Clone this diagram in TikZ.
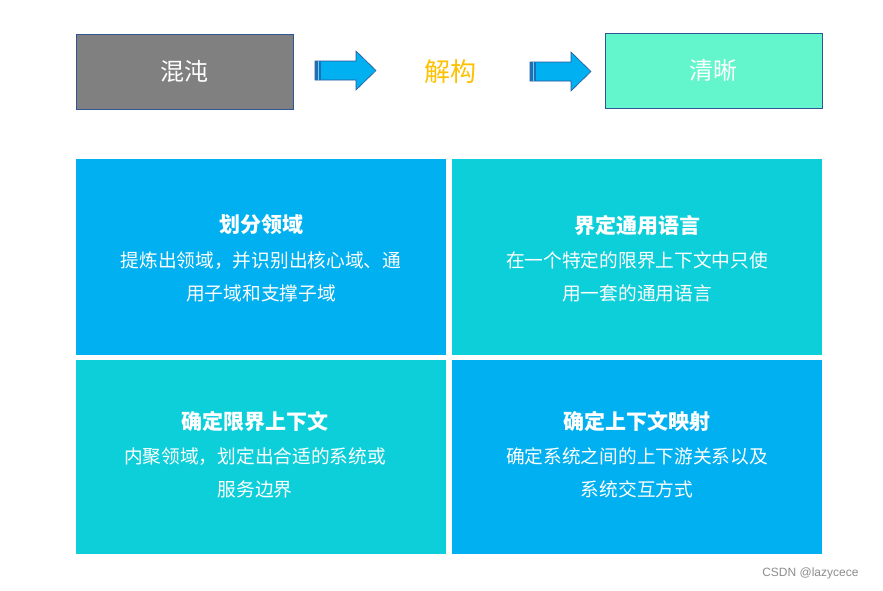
\documentclass[tikz,border=0pt]{standalone}
\usepackage{fontspec}
\setmainfont{Noto Sans CJK SC}
\newfontfamily\wmfont{Liberation Sans}
\usepackage{tikz}
\usetikzlibrary{positioning}
\definecolor{cgrey}{HTML}{808080}
\definecolor{cmint}{HTML}{63F5CB}
\definecolor{cblue}{HTML}{00B0F0}
\definecolor{cteal}{HTML}{0DCFDA}
\definecolor{corange}{HTML}{FFC000}
\definecolor{cedge}{HTML}{2F5597}
\definecolor{cdark}{HTML}{1F6FB4}

\begin{document}
\begin{tikzpicture}[x=1pt,y=-1pt,
    topbox/.style={draw=cedge, line width=0.8pt, minimum width=217pt,
                   minimum height=75pt, inner sep=0pt, text=white,
                   font=\fontsize{24}{28}\selectfont},
    cell/.style={minimum width=370pt, inner sep=0pt, anchor=north west},
    celltitle/.style={text=white, font=\fontsize{21}{24}\selectfont\bfseries},
    cellbody/.style={text=white, align=center,
                     font=\fontsize{18.7}{33}\selectfont}]

  \useasboundingbox (0,0) rectangle (883,590);

  % ----- linha de cima -----
  \node[topbox, fill=cgrey] (chaos) at (184.5,71.5) {混沌};
  \node[font=\fontsize{26}{28}\selectfont, text=corange] (decomp) at (450,72) {解构};
  \node[topbox, fill=cmint] (clear) at (713.5,70.5) {清晰};

  % ----- macro: \blockarrow{x esquerda}{y centro} -----
  \newcommand{\blockarrow}[2]{%
    \draw[cedge, fill=cblue, line width=0.6pt]
      (#1,#2-9.5) -- (#1+41,#2-9.5) -- (#1+41,#2-19.5) -- (#1+61,#2)
      -- (#1+41,#2+19.5) -- (#1+41,#2+9.5) -- (#1,#2+9.5) -- cycle;
    \fill[cdark] (#1,#2-9.5) rectangle (#1+6,#2+9.5);
    \draw[cblue!60, line width=0.8pt] (#1+3,#2-9.5) -- (#1+3,#2+9.5);
  }

  \blockarrow{315}{70.5}
  \blockarrow{530}{71.5}

  % ----- quadros -----
  \node[cell, fill=cblue, minimum height=196pt] (domain) at (76,159) {};
  \node[cell, fill=cteal, minimum height=196pt] (language) at (452,159) {};
  \node[cell, fill=cteal, minimum height=194pt] (context) at (76,360) {};
  \node[cell, fill=cblue, minimum height=194pt] (mapping) at (452,360) {};

  % ----- textos -----
  \node[celltitle] (domaint) at (261,225) {划分领域};
  \node[cellbody] (domainb) at (261,277) {提炼出领域，并识别出核心域、通\\用子域和支撑子域};

  \node[celltitle] (languaget) at (637,225) {界定通用语言};
  \node[cellbody] (languageb) at (637,277) {在一个特定的限界上下文中只使\\用一套的通用语言};

  \node[celltitle] (contextt) at (255,421) {确定限界上下文};
  \node[cellbody] (contextb) at (255,473) {内聚领域，划定出合适的系统或\\服务边界};

  \node[celltitle] (mappingt) at (637,421) {确定上下文映射};
  \node[cellbody] (mappingb) at (637,473) {确定系统之间的上下游关系以及\\系统交互方式};

  % ----- marca -----
  \node[anchor=east, text=black!45, font=\wmfont\fontsize{12}{14}\selectfont]
    (mark) at (862,573) {CSDN @lazycece};

\end{tikzpicture}
\end{document}
